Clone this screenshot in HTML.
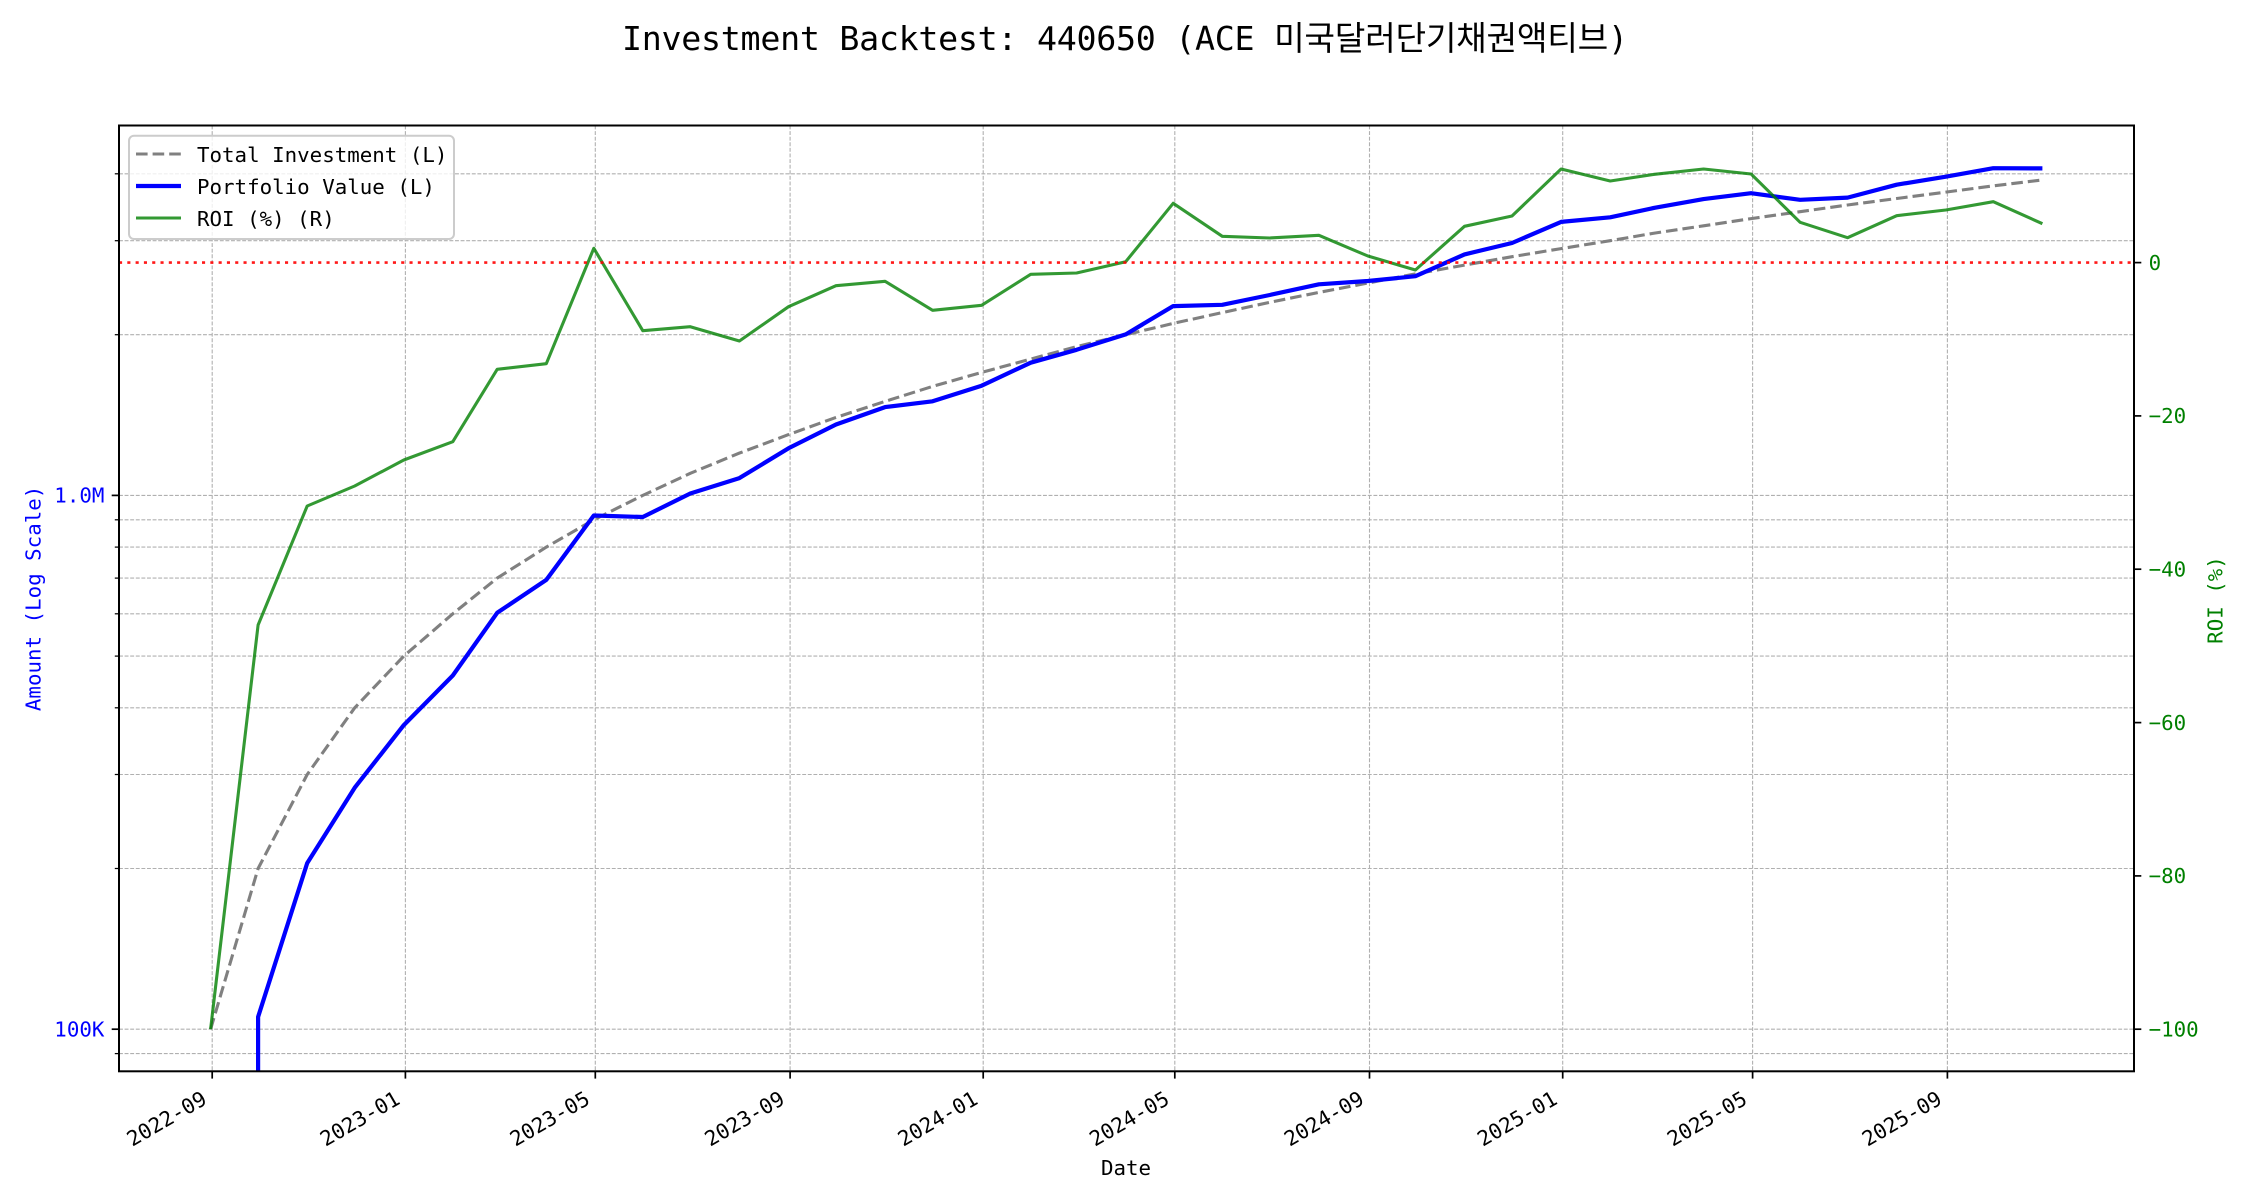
<!DOCTYPE html>
<html><head><meta charset="utf-8"><style>
html,body{margin:0;padding:0;background:#fff;}
svg{display:block;}
text{font-family:"DejaVu Sans Mono","Liberation Mono","Noto Sans CJK KR",monospace;}
</style></head><body>
<svg width="2250" height="1200" viewBox="0 0 2250 1200" xmlns="http://www.w3.org/2000/svg">
<rect width="2250" height="1200" fill="#fff"/>
<defs><clipPath id="ax"><rect x="119" y="125.5" width="2015" height="945.8"/></clipPath></defs>

<!-- title -->
<text x="622" y="50" font-size="33.3" textLength="1006" lengthAdjust="spacing" fill="#000">Investment Backtest: 440650 (ACE <tspan font-family="'Noto Sans CJK KR','NanumGothic',sans-serif">미국달러단기채권액티브</tspan>)</text>

<!-- grid -->
<g stroke="#b0b0b0" stroke-width="1.1" stroke-dasharray="3.9,1.7" fill="none">
<line x1="212.2" y1="125.5" x2="212.2" y2="1071.3"/>
<line x1="405.4" y1="125.5" x2="405.4" y2="1071.3"/>
<line x1="595.3" y1="125.5" x2="595.3" y2="1071.3"/>
<line x1="790.1" y1="125.5" x2="790.1" y2="1071.3"/>
<line x1="983.2" y1="125.5" x2="983.2" y2="1071.3"/>
<line x1="1174.8" y1="125.5" x2="1174.8" y2="1071.3"/>
<line x1="1369.5" y1="125.5" x2="1369.5" y2="1071.3"/>
<line x1="1562.7" y1="125.5" x2="1562.7" y2="1071.3"/>
<line x1="1752.6" y1="125.5" x2="1752.6" y2="1071.3"/>
<line x1="1947.4" y1="125.5" x2="1947.4" y2="1071.3"/>
<line x1="119" y1="1053.6" x2="2134" y2="1053.6"/>
<line x1="119" y1="1029.2" x2="2134" y2="1029.2"/>
<line x1="119" y1="868.5" x2="2134" y2="868.5"/>
<line x1="119" y1="774.5" x2="2134" y2="774.5"/>
<line x1="119" y1="707.8" x2="2134" y2="707.8"/>
<line x1="119" y1="656.1" x2="2134" y2="656.1"/>
<line x1="119" y1="613.8" x2="2134" y2="613.8"/>
<line x1="119" y1="578.1" x2="2134" y2="578.1"/>
<line x1="119" y1="547.1" x2="2134" y2="547.1"/>
<line x1="119" y1="519.8" x2="2134" y2="519.8"/>
<line x1="119" y1="495.4" x2="2134" y2="495.4"/>
<line x1="119" y1="334.7" x2="2134" y2="334.7"/>
<line x1="119" y1="240.7" x2="2134" y2="240.7"/>
<line x1="119" y1="173.8" x2="2134" y2="173.8"/>
</g>

<g clip-path="url(#ax)" fill="none" stroke-linejoin="round">
<!-- total investment -->
<polyline stroke="#808080" stroke-width="3.1" stroke-dasharray="11.6,5" points="210.6,1029.2 258.1,868.5 307.2,774.5 354.7,707.8 403.8,656.1 452.8,613.8 497.2,578.1 546.3,547.1 593.8,519.8 642.8,495.4 690.3,473.3 739.4,453.1 788.5,434.6 836.0,417.4 885.1,401.4 932.6,386.4 981.6,372.4 1030.7,359.1 1076.6,346.6 1125.7,334.7 1173.2,323.4 1222.3,312.6 1269.8,302.3 1318.9,292.4 1367.9,283.0 1415.4,273.9 1464.5,265.1 1512.0,256.7 1561.1,248.6 1610.2,240.7 1654.5,233.1 1703.6,225.8 1751.1,218.6 1800.1,211.7 1847.6,205.0 1896.7,198.5 1945.8,192.1 1993.3,185.9 2042.4,179.9"/>
<!-- portfolio value -->
<polyline stroke="#0000ff" stroke-width="4.2" points="258.1,1100 258.1,1016.9 307.2,863.1 354.7,787.7 403.8,725.1 452.8,675.5 497.2,612.8 546.3,579.9 593.8,515.5 642.8,517.0 690.3,493.5 739.4,478.1 788.5,448.3 836.0,424.5 885.1,407.1 932.6,401.3 981.6,385.7 1030.7,362.7 1076.6,349.8 1125.7,334.4 1173.2,306.1 1222.3,304.8 1269.8,295.0 1318.9,284.3 1367.9,281.0 1415.4,276.2 1464.5,254.4 1512.0,243.0 1561.1,221.9 1610.2,217.3 1654.5,207.8 1703.6,199.1 1751.1,193.2 1800.1,199.8 1847.6,197.6 1896.7,184.7 1945.8,176.7 1993.3,168.2 2042.4,168.4"/>
<!-- ROI -->
<polyline stroke="#008000" stroke-opacity="0.8" stroke-width="3.1" points="210.6,1029.2 258.1,625 307.2,506 354.7,486 403.8,460 452.8,441.7 497.2,369.3 546.3,363.7 593.8,248.3 642.8,330.7 690.3,326.7 739.4,341 788.5,306.7 836.0,285.7 885.1,281.3 932.6,310.3 981.6,305.3 1030.7,274.3 1076.6,273 1125.7,261.7 1173.2,203.3 1222.3,236.3 1269.8,238 1318.9,235.3 1367.9,256 1415.4,270 1464.5,226.3 1512.0,216 1561.1,169 1610.2,181 1654.5,174.3 1703.6,169 1751.1,174 1800.1,222.3 1847.6,237.7 1896.7,215.7 1945.8,210 1993.3,201.7 2042.4,223.7"/>
<!-- zero line -->
<line x1="119" y1="262.6" x2="2134" y2="262.6" stroke="#ff0000" stroke-width="2.6" stroke-dasharray="3.1,5.2" stroke-opacity="0.9"/>
</g>

<!-- spines -->
<rect x="119" y="125.5" width="2015" height="945.8" fill="none" stroke="#000" stroke-width="2"/>

<!-- x ticks -->
<g stroke="#000" stroke-width="1.7">
<line x1="212.2" y1="1071.3" x2="212.2" y2="1078.6"/>
<line x1="405.4" y1="1071.3" x2="405.4" y2="1078.6"/>
<line x1="595.3" y1="1071.3" x2="595.3" y2="1078.6"/>
<line x1="790.1" y1="1071.3" x2="790.1" y2="1078.6"/>
<line x1="983.2" y1="1071.3" x2="983.2" y2="1078.6"/>
<line x1="1174.8" y1="1071.3" x2="1174.8" y2="1078.6"/>
<line x1="1369.5" y1="1071.3" x2="1369.5" y2="1078.6"/>
<line x1="1562.7" y1="1071.3" x2="1562.7" y2="1078.6"/>
<line x1="1752.6" y1="1071.3" x2="1752.6" y2="1078.6"/>
<line x1="1947.4" y1="1071.3" x2="1947.4" y2="1078.6"/>
<!-- left major -->
<line x1="111.7" y1="1029.2" x2="119" y2="1029.2"/>
<line x1="111.7" y1="495.4" x2="119" y2="495.4"/>
<!-- right major -->
<line x1="2134" y1="262.6" x2="2141.3" y2="262.6"/>
<line x1="2134" y1="415.9" x2="2141.3" y2="415.9"/>
<line x1="2134" y1="569.2" x2="2141.3" y2="569.2"/>
<line x1="2134" y1="722.6" x2="2141.3" y2="722.6"/>
<line x1="2134" y1="875.9" x2="2141.3" y2="875.9"/>
<line x1="2134" y1="1029.2" x2="2141.3" y2="1029.2"/>
</g>
<g stroke="#000" stroke-width="1.25">
<line x1="114.8" y1="1053.6" x2="119" y2="1053.6"/>
<line x1="114.8" y1="868.5" x2="119" y2="868.5"/>
<line x1="114.8" y1="774.5" x2="119" y2="774.5"/>
<line x1="114.8" y1="707.8" x2="119" y2="707.8"/>
<line x1="114.8" y1="656.1" x2="119" y2="656.1"/>
<line x1="114.8" y1="613.8" x2="119" y2="613.8"/>
<line x1="114.8" y1="578.1" x2="119" y2="578.1"/>
<line x1="114.8" y1="547.1" x2="119" y2="547.1"/>
<line x1="114.8" y1="519.8" x2="119" y2="519.8"/>
<line x1="114.8" y1="334.7" x2="119" y2="334.7"/>
<line x1="114.8" y1="240.7" x2="119" y2="240.7"/>
<line x1="114.8" y1="173.8" x2="119" y2="173.8"/>
</g>

<!-- x tick labels -->
<g font-size="20.8" fill="#000" text-anchor="end">
<text transform="translate(208.2,1103) rotate(-30)">2022-09</text>
<text transform="translate(401.4,1103) rotate(-30)">2023-01</text>
<text transform="translate(591.3,1103) rotate(-30)">2023-05</text>
<text transform="translate(786.1,1103) rotate(-30)">2023-09</text>
<text transform="translate(979.2,1103) rotate(-30)">2024-01</text>
<text transform="translate(1170.8,1103) rotate(-30)">2024-05</text>
<text transform="translate(1365.5,1103) rotate(-30)">2024-09</text>
<text transform="translate(1558.7,1103) rotate(-30)">2025-01</text>
<text transform="translate(1748.6,1103) rotate(-30)">2025-05</text>
<text transform="translate(1943.4,1103) rotate(-30)">2025-09</text>
</g>
<text x="1126" y="1175" font-size="20.8" text-anchor="middle" fill="#000">Date</text>

<!-- left y labels -->
<g font-size="20.8" fill="#0000ff" text-anchor="end">
<text x="104.4" y="495.4" dy="0.35em">1.0M</text>
<text x="104.4" y="1029.2" dy="0.35em">100K</text>
</g>
<text transform="translate(33,598.4) rotate(-90)" dy="0.35em" font-size="20.8" fill="#0000ff" text-anchor="middle">Amount (Log Scale)</text>

<!-- right y labels -->
<g font-size="20.8" fill="#008000">
<text x="2148.6" y="262.6" dy="0.35em">0</text>
<text x="2148.6" y="415.9" dy="0.35em">−20</text>
<text x="2148.6" y="569.2" dy="0.35em">−40</text>
<text x="2148.6" y="722.6" dy="0.35em">−60</text>
<text x="2148.6" y="875.9" dy="0.35em">−80</text>
<text x="2148.6" y="1029.2" dy="0.35em">−100</text>
</g>
<text transform="translate(2215,600) rotate(-90)" dy="0.35em" font-size="20.8" fill="#008000" text-anchor="middle">ROI (%)</text>

<!-- legend -->
<rect x="129" y="135.7" width="325" height="103.3" rx="5" ry="5" fill="#fff" fill-opacity="0.8" stroke="#cccccc" stroke-width="2"/>
<line x1="136" y1="154" x2="181" y2="154" stroke="#808080" stroke-width="3.1" stroke-dasharray="11.6,5"/>
<line x1="136" y1="186" x2="181" y2="186" stroke="#0000ff" stroke-width="4.2"/>
<line x1="136" y1="218" x2="181" y2="218" stroke="#008000" stroke-opacity="0.8" stroke-width="3.1"/>
<g font-size="20.8" fill="#000">
<text x="197" y="162">Total Investment (L)</text>
<text x="197" y="194">Portfolio Value (L)</text>
<text x="197" y="226">ROI (%) (R)</text>
</g>
</svg>
</body></html>
